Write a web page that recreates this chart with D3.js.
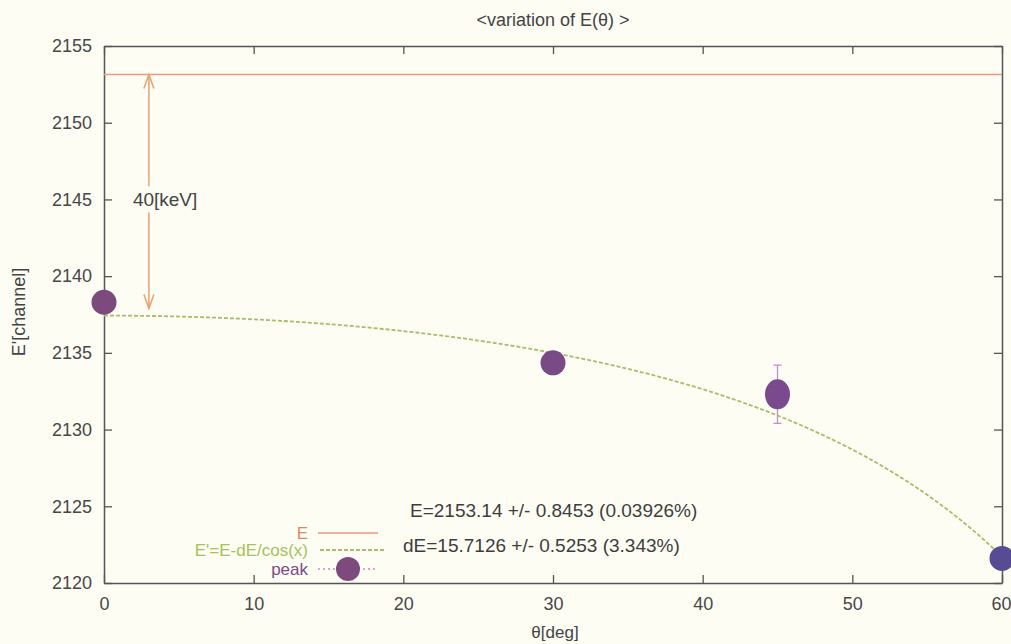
<!DOCTYPE html>
<html>
<head>
<meta charset="utf-8">
<script src="https://cdn.jsdelivr.net/npm/d3@7"></script>
<style>
  body { margin: 0; background: #fdfdf4; }
  svg { font-family: "Liberation Sans", Arial, sans-serif; }
  .tick text { fill: #474747; font-size: 18px; }
</style>
</head>
<body>
<div id="chart"></div>
<script>
// 数据
const peakTheta = [0, 30, 45, 60];
const peakE = [2138.3, 2134.35, 2132.3, 2121.6];
const peakErr = [0.3, 0.3, 1.9, 0.3];
const peakColors = ['#7c4a7c', '#7a4a86', '#7b4a8e', '#574c94'];
const fitE = 2153.14;
const fitDE = 15.7126;
const xTicks = [0, 10, 20, 30, 40, 50, 60];
const yTicks = [2120, 2125, 2130, 2135, 2140, 2145, 2150, 2155];
const fitLines = ['E=2153.14 +/- 0.8453 (0.03926%)', 'dE=15.7126 +/- 0.5253 (3.343%)'];

const width = 1011, height = 644;
const margin = {top: 46, right: 9, bottom: 61, left: 104};

const svg = d3.select('#chart').append('svg')
    .attr('width', width)
    .attr('height', height);

svg.append('rect').attr('width', width).attr('height', height).attr('fill', '#fdfdf4');

const x = d3.scaleLinear().domain([0, 60]).range([margin.left, width - margin.right]);
const y = d3.scaleLinear().domain([2120, 2155]).range([height - margin.bottom, margin.top]);

// 坐标轴（gnuplot 风格，刻度向内）
const axisColor = '#555';
const gx = svg.append('g').attr('transform', `translate(0,${y(2120)})`)
    .call(d3.axisBottom(x).tickValues(xTicks).tickSizeInner(-8).tickSizeOuter(0).tickPadding(14));
const gxTop = svg.append('g').attr('transform', `translate(0,${y(2155)})`)
    .call(d3.axisTop(x).tickValues(xTicks).tickSizeInner(-8).tickSizeOuter(0).tickFormat(''));
const gy = svg.append('g').attr('transform', `translate(${x(0)},0)`)
    .call(d3.axisLeft(y).tickValues(yTicks).tickFormat(d3.format('d')).tickSizeInner(-8).tickSizeOuter(0).tickPadding(12));
const gyRight = svg.append('g').attr('transform', `translate(${x(60)},0)`)
    .call(d3.axisRight(y).tickValues(yTicks).tickSizeInner(-8).tickSizeOuter(0).tickFormat(''));

[gx, gxTop, gy, gyRight].forEach(g => {
    g.selectAll('.domain').attr('stroke', axisColor).attr('stroke-width', 1.5);
    g.selectAll('.tick line').attr('stroke', axisColor).attr('stroke-width', 1.3);
});
// 最右侧的 60 贴着图边，向左靠一点
gx.selectAll('.tick text').filter(d => d === 60)
    .attr('text-anchor', 'end').attr('dx', 9);

// E 常数线
svg.append('line')
    .attr('x1', x(0)).attr('x2', x(60))
    .attr('y1', y(fitE)).attr('y2', y(fitE))
    .attr('stroke', '#ea9a84').attr('stroke-width', 1.6);

// E' = E - dE/cos(x) 拟合曲线
const curveX = d3.range(0, 60.01, 0.5);
const line = d3.line()
    .x(d => x(d))
    .y(d => y(fitE - fitDE / Math.cos(d * Math.PI / 180)));
svg.append('path')
    .datum(curveX)
    .attr('d', line)
    .attr('fill', 'none')
    .attr('stroke', '#a9be6a')
    .attr('stroke-width', 1.8)
    .attr('stroke-dasharray', '4,2');

// 40[keV] 双向箭头
const arrowColor = '#eca06e';
const ax = x(3);
const ay1 = y(fitE), ay2 = y(fitE - fitDE) - 7;
svg.append('line')
    .attr('x1', ax).attr('x2', ax).attr('y1', ay1).attr('y2', ay2)
    .attr('stroke', arrowColor).attr('stroke-width', 1.5);
svg.append('path')
    .attr('d', `M${ax - 5},${ay1 + 14} L${ax},${ay1} L${ax + 5},${ay1 + 14}`)
    .attr('fill', 'none').attr('stroke', arrowColor).attr('stroke-width', 1.5);
svg.append('path')
    .attr('d', `M${ax - 5},${ay2 - 14} L${ax},${ay2} L${ax + 5},${ay2 - 14}`)
    .attr('fill', 'none').attr('stroke', arrowColor).attr('stroke-width', 1.5);
svg.append('rect')
    .attr('x', ax - 18).attr('y', y(2145) - 13).attr('width', 78).attr('height', 26)
    .attr('fill', '#fdfdf4');
svg.append('text')
    .attr('x', ax - 16).attr('y', y(2145) + 7)
    .attr('fill', '#444').attr('font-size', 19)
    .text('40[keV]');

// 峰值点及误差棒
const pts = peakTheta.map((t, i) => ({t, e: peakE[i], err: peakErr[i], c: peakColors[i]}));
const pg = svg.append('g');
pg.selectAll('.err')
    .data(pts)
    .enter().append('line')
    .attr('x1', d => x(d.t)).attr('x2', d => x(d.t))
    .attr('y1', d => y(d.e - d.err)).attr('y2', d => y(d.e + d.err))
    .attr('stroke', '#c98ac8').attr('stroke-width', 1.3);
pg.selectAll('.cap')
    .data(pts.filter(d => d.err > 1))
    .enter().append('path')
    .attr('d', d => `M${x(d.t) - 4},${y(d.e + d.err)}h8M${x(d.t) - 4},${y(d.e - d.err)}h8`)
    .attr('stroke', '#c98ac8').attr('stroke-width', 1.3);
pg.selectAll('ellipse')
    .data(pts)
    .enter().append('ellipse')
    .attr('cx', d => x(d.t))
    .attr('cy', d => y(d.e))
    .attr('rx', 12.5)
    .attr('ry', d => d.err > 1 ? 15 : 12.5)
    .attr('fill', d => d.c);

// 拟合参数文字
svg.selectAll('.fit')
    .data(fitLines)
    .enter().append('text')
    .attr('x', (d, i) => i === 0 ? 410 : 403)
    .attr('y', (d, i) => 517 + i * 35)
    .attr('fill', '#3d3d3d')
    .attr('font-size', 19)
    .text(d => d);

// 图例
const legend = svg.append('g').attr('font-size', 17);
legend.append('text').attr('x', 308).attr('y', 539).attr('text-anchor', 'end')
    .attr('fill', '#e08a5c').text('E');
legend.append('line').attr('x1', 318).attr('x2', 378).attr('y1', 533).attr('y2', 533)
    .attr('stroke', '#ea9a84').attr('stroke-width', 1.6);
legend.append('text').attr('x', 308).attr('y', 556).attr('text-anchor', 'end')
    .attr('fill', '#a6c25a').text("E'=E-dE/cos(x)");
legend.append('line').attr('x1', 320).attr('x2', 384).attr('y1', 550).attr('y2', 550)
    .attr('stroke', '#a9be6a').attr('stroke-width', 1.8).attr('stroke-dasharray', '4,2');
legend.append('text').attr('x', 308).attr('y', 575).attr('text-anchor', 'end')
    .attr('fill', '#7a4a8a').text('peak');
legend.append('line').attr('x1', 318).attr('x2', 378).attr('y1', 569).attr('y2', 569)
    .attr('stroke', '#c98ac8').attr('stroke-width', 1.3).attr('stroke-dasharray', '2,3');
legend.append('circle').attr('cx', 348).attr('cy', 569).attr('r', 12)
    .attr('fill', '#7c4a7c');

// 标题与轴标签
svg.append('text')
    .attr('x', 553).attr('y', 26).attr('text-anchor', 'middle')
    .attr('fill', '#444').attr('font-size', 18)
    .text('<variation of E(θ) >');
svg.append('text')
    .attr('x', 555).attr('y', 638).attr('text-anchor', 'middle')
    .attr('fill', '#444').attr('font-size', 17)
    .text('θ[deg]');
svg.append('text')
    .attr('transform', 'translate(25,312) rotate(-90)')
    .attr('text-anchor', 'middle')
    .attr('fill', '#444').attr('font-size', 18)
    .text("E'[channel]");
</script>
</body>
</html>
